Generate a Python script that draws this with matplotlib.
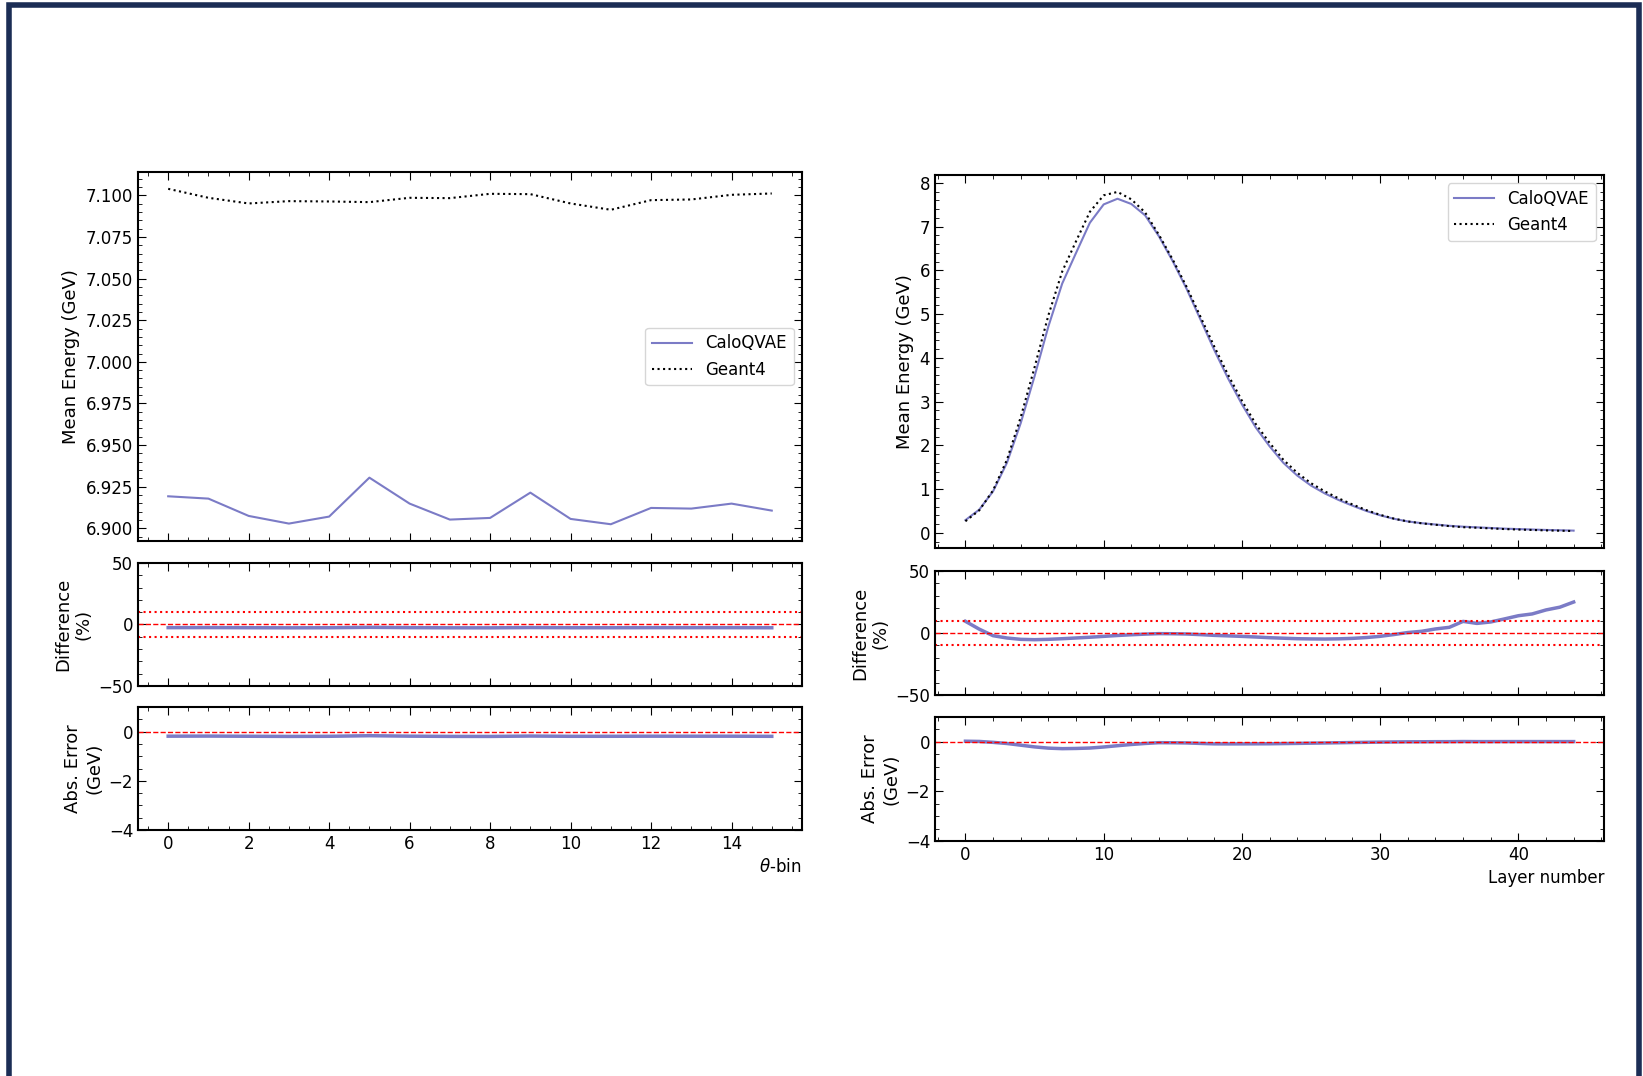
import numpy as np
import matplotlib
matplotlib.use("Agg")
from matplotlib import pyplot as plt
from matplotlib.ticker import AutoMinorLocator, MultipleLocator
from matplotlib.patches import Rectangle

# theta-bin panel (left)
theta_bins = list(range(16))
theta_calo = [6.9192, 6.9178, 6.9074, 6.9028, 6.9070, 6.9304, 6.9148, 6.9052,
              6.9062, 6.9214, 6.9056, 6.9024, 6.9122, 6.9118, 6.9148, 6.9106]
theta_geant = [7.1040, 7.0986, 7.0952, 7.0966, 7.0964, 7.0960, 7.0986, 7.0984,
               7.1010, 7.1008, 7.0952, 7.0914, 7.0972, 7.0976, 7.1004, 7.1012]

# layer panel (right)
layers = list(range(45))
layer_calo = [0.290, 0.530, 0.950, 1.600, 2.510, 3.580, 4.720, 5.700, 6.400, 7.090,
              7.510, 7.640, 7.520, 7.260, 6.780, 6.210, 5.580, 4.880, 4.180, 3.530,
              2.940, 2.410, 1.980, 1.600, 1.310, 1.080, 0.900, 0.750, 0.620, 0.500,
              0.400, 0.320, 0.260, 0.220, 0.190, 0.160, 0.140, 0.125, 0.110, 0.095,
              0.085, 0.075, 0.065, 0.058, 0.050]
layer_geant = [0.265, 0.514, 0.971, 1.667, 2.645, 3.784, 4.974, 5.975, 6.667, 7.340,
               7.718, 7.796, 7.627, 7.326, 6.814, 6.247, 5.625, 4.944, 4.261, 3.613,
               3.022, 2.490, 2.058, 1.670, 1.373, 1.134, 0.946, 0.787, 0.648, 0.519,
               0.411, 0.324, 0.259, 0.217, 0.184, 0.153, 0.128, 0.116, 0.101, 0.0853,
               0.0746, 0.0650, 0.0548, 0.0480, 0.0400]

CALO_COL = "#7b7bc6"
BORDER_COL = "#1b2d55"

plt.rcParams['font.family'] = ['DejaVu Sans']
plt.rcParams['xtick.direction'] = 'in'
plt.rcParams['ytick.direction'] = 'in'
plt.rcParams['xtick.top'] = True
plt.rcParams['ytick.right'] = True
plt.rcParams['xtick.major.size'] = 6
plt.rcParams['ytick.major.size'] = 6
plt.rcParams['xtick.minor.size'] = 3
plt.rcParams['ytick.minor.size'] = 3
plt.rcParams['axes.linewidth'] = 1.5
plt.rcParams['xtick.labelsize'] = 12
plt.rcParams['ytick.labelsize'] = 12

fig = plt.figure(figsize=(16.43, 10.76), dpi=100)

# navy frame around the picture (bottom edge falls outside the image)
fig.patches.append(Rectangle((8.5 / 1643, -0.02), (1638.5 - 8.5) / 1643, 1.02 - 4.5 / 1076,
                             transform=fig.transFigure, fill=False,
                             edgecolor=BORDER_COL, linewidth=4, zorder=10))


def style_axes(ax):
    ax.xaxis.set_minor_locator(AutoMinorLocator())
    ax.yaxis.set_minor_locator(AutoMinorLocator())


def make_column(x0, w, rects, x, calo, geant, xlabel, legend_loc):
    ax1 = fig.add_axes([x0, rects[0][0], w, rects[0][1]])
    ax2 = fig.add_axes([x0, rects[1][0], w, rects[1][1]], sharex=ax1)
    ax3 = fig.add_axes([x0, rects[2][0], w, rects[2][1]], sharex=ax1)

    ax1.plot(x, calo, color=CALO_COL, lw=1.5, label="CaloQVAE")
    ax1.plot(x, geant, color="black", ls=":", lw=1.5, label="Geant4")
    ax1.set_ylabel("Mean Energy (GeV)", fontsize=13)
    ax1.legend(loc=legend_loc, fontsize=12, handlelength=2.4)

    calo_a = np.array(calo)
    geant_a = np.array(geant)
    diff = (calo_a - geant_a) / geant_a * 100
    err = calo_a - geant_a

    ax2.plot(x, diff, color=CALO_COL, lw=2.5)
    ax2.axhline(0, color="red", ls="--", lw=1)
    ax2.axhline(10, color="red", ls=":", lw=1.5)
    ax2.axhline(-10, color="red", ls=":", lw=1.5)
    ax2.set_ylim(-50, 50)
    ax2.yaxis.set_major_locator(MultipleLocator(50))
    ax2.set_ylabel("Difference\n(%)", fontsize=13)

    ax3.plot(x, err, color=CALO_COL, lw=2.5)
    ax3.axhline(0, color="red", ls="--", lw=1)
    ax3.set_ylim(-4, 1)
    ax3.yaxis.set_major_locator(MultipleLocator(2))
    ax3.set_ylabel("Abs. Error\n(GeV)", fontsize=13)
    ax3.set_xlabel(xlabel, fontsize=12, loc="right")

    for ax in (ax1, ax2, ax3):
        style_axes(ax)
    plt.setp(ax1.get_xticklabels(), visible=False)
    plt.setp(ax2.get_xticklabels(), visible=False)
    fig.align_ylabels([ax1, ax2, ax3])
    return ax1, ax2, ax3


make_column(0.0840, 0.4041,
            [(0.4972, 0.3429), (0.3625, 0.1143), (0.2286, 0.1143)],
            theta_bins, theta_calo, theta_geant, r"$\theta$-bin", "center right")

ax_r = make_column(0.5691, 0.4072,
                   [(0.4907, 0.3467), (0.3541, 0.1152), (0.2184, 0.1152)],
                   layers, layer_calo, layer_geant, "Layer number", "upper right")
ax_r[0].xaxis.set_major_locator(MultipleLocator(10))

fig.savefig("out.png", dpi=100)
